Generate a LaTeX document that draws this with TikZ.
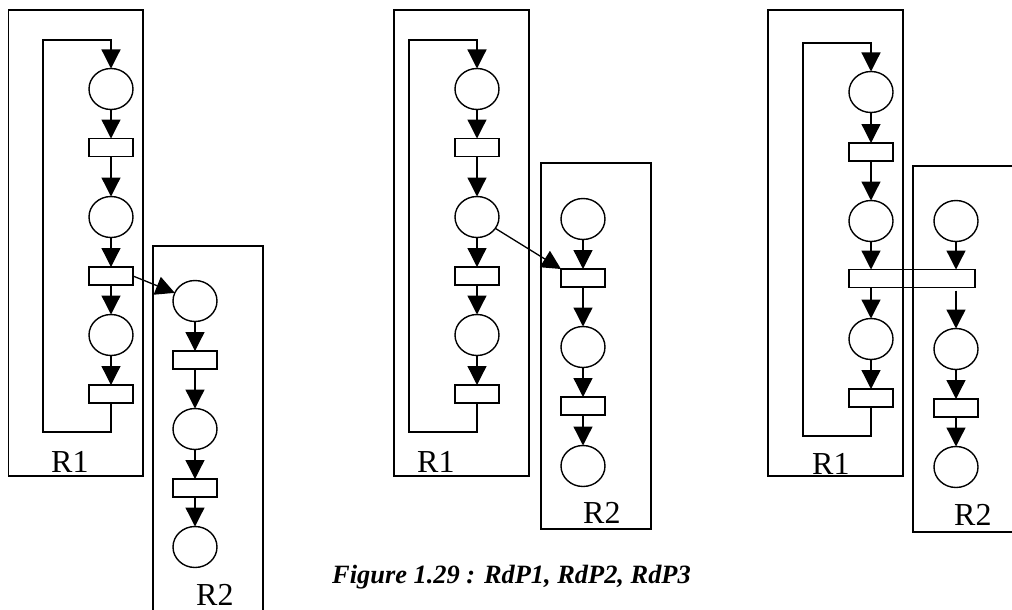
\documentclass[tikz,border=0pt]{standalone}
\usepackage{fontspec}
\setmainfont{Liberation Serif}
\usetikzlibrary{arrows.meta,shapes.geometric}
\begin{document}
\begin{tikzpicture}[x=1pt,y=-1pt,
  placenode/.style={ellipse,draw,line width=1.4pt,minimum width=44pt,minimum height=41pt,inner sep=0pt,outer sep=0pt},
  transnode/.style={rectangle,draw,line width=1.4pt,minimum width=44pt,minimum height=18pt,inner sep=0pt,outer sep=0pt},
  arr/.style={-{Triangle[length=19pt,width=19pt]},line width=1.3pt},
  looparr/.style={-{Triangle[length=19pt,width=19pt]},line width=1.2pt,line join=miter},
  region/.style={draw,line width=1.8pt},
  lbl/.style={inner sep=0pt,font=\fontsize{32}{36}\selectfont},
  caption/.style={inner sep=0pt,font=\fontsize{26.4}{30}\selectfont\bfseries\itshape}]
\clip (0,0) rectangle (1012,610);

% ---------- regions ----------
\draw[region] (8.5,10) rectangle (143,476);
\draw[region] (153,246) rectangle (263,640);
\draw[region] (394,10) rectangle (529,476);
\draw[region] (541,163) rectangle (651,529);
\draw[region] (768,10) rectangle (903,476);
\draw[region] (913,166) rectangle (1040,532);

% ---------- RdP1 : R1 ----------
\node[placenode] (a1) at (111,89) {};
\node[transnode] (a2) at (111,147.5) {};
\node[placenode] (a3) at (111,217) {};
\node[transnode] (a4) at (111,276) {};
\node[placenode] (a5) at (111,335) {};
\node[transnode] (a6) at (111,394) {};
\coordinate (a7) at (111,432);
\coordinate (a8) at (43,432);
\coordinate (a9) at (43,40);
\coordinate (a10) at (111,40);
\draw[arr] (a1) -- (a2);
\draw[arr] (a2) -- (a3);
\draw[arr] (a3) -- (a4);
\draw[arr] (a4) -- (a5);
\draw[arr] (a5) -- (a6);
\draw[looparr] (a6.south) -- (a7) -- (a8) -- (a9) -- (a10) -- (a1.north);
% ---------- RdP1 : R2 ----------
\node[placenode] (b1) at (195,301) {};
\node[transnode] (b2) at (195,360) {};
\node[placenode] (b3) at (195,429) {};
\node[transnode] (b4) at (195,488) {};
\node[placenode] (b5) at (195,547) {};
\draw[arr] (b1) -- (b2);
\draw[arr] (b2) -- (b3);
\draw[arr] (b3) -- (b4);
\draw[arr] (b4) -- (b5);
\draw[arr] (a4.east) -- (b1);

% ---------- RdP2 : R1 ----------
\node[placenode] (c1) at (477,89) {};
\node[transnode] (c2) at (477,147.5) {};
\node[placenode] (c3) at (477,217) {};
\node[transnode] (c4) at (477,276) {};
\node[placenode] (c5) at (477,335) {};
\node[transnode] (c6) at (477,394) {};
\coordinate (c7) at (477,432);
\coordinate (c8) at (409,432);
\coordinate (c9) at (409,40);
\coordinate (c10) at (477,40);
\draw[arr] (c1) -- (c2);
\draw[arr] (c2) -- (c3);
\draw[arr] (c3) -- (c4);
\draw[arr] (c4) -- (c5);
\draw[arr] (c5) -- (c6);
\draw[looparr] (c6.south) -- (c7) -- (c8) -- (c9) -- (c10) -- (c1.north);
% ---------- RdP2 : R2 ----------
\node[placenode] (d1) at (583,219) {};
\node[transnode] (d2) at (583,278) {};
\node[placenode] (d3) at (583,347) {};
\node[transnode] (d4) at (583,406) {};
\node[placenode] (d5) at (583,466) {};
\draw[arr] (d1) -- (d2);
\draw[arr] (d2) -- (d3);
\draw[arr] (d3) -- (d4);
\draw[arr] (d4) -- (d5);
\draw[arr] (c3) -- (d2.north west);

% ---------- RdP3 : R1 ----------
\node[placenode] (e1) at (871,92) {};
\node[transnode] (e2) at (871,152) {};
\node[placenode] (e3) at (871,221) {};
\node[transnode,minimum width=126pt] (w) at (912,278.5) {};
\node[placenode] (e5) at (871,339) {};
\node[transnode] (e6) at (871,398) {};
\coordinate (e7) at (871,436);
\coordinate (e8) at (803,436);
\coordinate (e9) at (803,43);
\coordinate (e10) at (871,43);
\draw[arr] (e1) -- (e2);
\draw[arr] (e2) -- (e3);
\draw[arr] (e3) -- (e3 |- w.north);
\draw[arr] (w.south -| e5) -- (e5);
\draw[arr] (e5) -- (e6);
\draw[looparr] (e6.south) -- (e7) -- (e8) -- (e9) -- (e10) -- (e1.north);
% ---------- RdP3 : R2 ----------
\node[placenode] (f1) at (956,221) {};
\node[placenode] (f3) at (956,349) {};
\node[transnode] (f4) at (956,408) {};
\node[placenode] (f5) at (956,467) {};
\draw[arr] (f1) -- (f1 |- w.north);
\draw[arr] ([yshift=-3pt]w.south -| f3) -- (f3);
\draw[arr] (f3) -- (f4);
\draw[arr] (f4) -- (f5);

% ---------- labels ----------
\node[lbl,anchor=base west] (la) at (51,472) {R1};
\node[lbl,anchor=base west] (lb) at (196,605) {R2};
\node[lbl,anchor=base west] (lc) at (417,472) {R1};
\node[lbl,anchor=base west] (ld) at (583,523) {R2};
\node[lbl,anchor=base west] (le) at (812,474) {R1};
\node[lbl,anchor=base west] (lf) at (954,525) {R2};
\node[caption,anchor=base west] (cap) at (332,583) {Figure 1.29 : RdP1, RdP2, RdP3};
\end{tikzpicture}
\end{document}
